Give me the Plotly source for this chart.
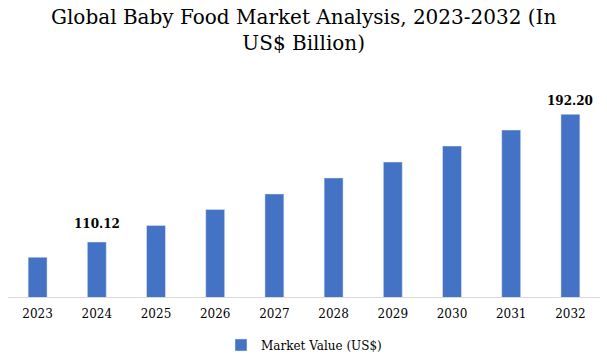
import plotly.graph_objects as go

years = ["2023", "2024", "2025", "2026", "2027", "2028", "2029", "2030", "2031", "2032"]
values = [100.3, 110.12, 120.8, 131.0, 141.0, 151.3, 161.5, 171.8, 182.1, 192.20]
labels = ["", "110.12", "", "", "", "", "", "", "", "192.20"]

fig = go.Figure()
fig.add_trace(go.Bar(
    x=years, y=values, name="Market Value (US$)",
    marker_color="#4472C4",
))

label_lift = {"2024": 9, "2032": 4}
for i, (yr, v, t) in enumerate(zip(years, values, labels)):
    if t:
        fig.add_annotation(
            x=i, y=v, xref="x", yref="y", text=f"<b>{t}</b>", showarrow=False,
            yanchor="bottom", yshift=label_lift.get(yr, 4),
            font=dict(family="DejaVu Serif", size=12, color="#000000"),
        )

fig.add_annotation(
    text="Global Baby Food Market Analysis, 2023-2032 (In<br>US$ Billion)",
    xref="paper", yref="paper", x=0.5, xanchor="center",
    y=1.0 + 97 / 197, yanchor="top", showarrow=False,
    font=dict(family="DejaVu Serif", size=20, color="#000000"),
)

fig.update_layout(
    width=607, height=358,
    paper_bgcolor="white", plot_bgcolor="white",
    margin=dict(l=8, r=7, t=100, b=61, autoexpand=False),
    bargap=0.68,
    showlegend=True,
    legend=dict(orientation="h", x=0.5, xanchor="center", y=-0.17, yanchor="top",
                font=dict(family="DejaVu Serif", size=12, color="#000000")),
    xaxis=dict(type="category", showgrid=False, showline=True, linecolor="#d9d9d9", linewidth=1,
               ticks="outside", ticklen=6, tickcolor="rgba(0,0,0,0)",
               tickfont=dict(family="DejaVu Serif", size=12, color="#000000")),
    yaxis=dict(range=[74.77, 201.4], visible=False, showgrid=False),
)

fig.write_html("out.html", config={"displayModeBar": False},
               post_script="document.body.style.margin='0';")
